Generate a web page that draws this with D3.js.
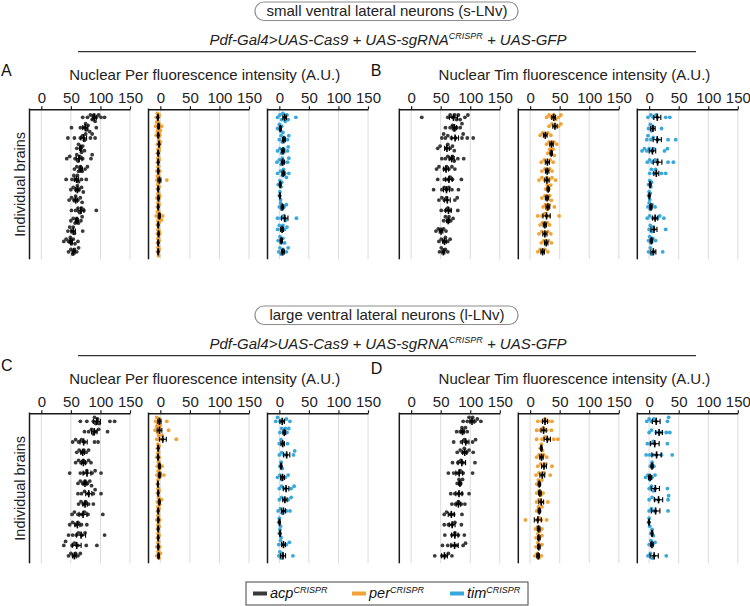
<!DOCTYPE html>
<html><head><meta charset="utf-8">
<script src="https://cdn.jsdelivr.net/npm/d3@7"></script>
<style>body{margin:0;background:#fff}svg{display:block}text{font-family:"Liberation Sans",Arial,sans-serif}</style>
</head><body><svg id="c" width="750" height="606"></svg>
<script>
// ---------- DATA ----------
const genotypes = ["acp", "per", "tim"];
const tickValues = [0, 50, 100, 150];
const sectionTitles = ["small ventral lateral neurons (s-LNv)", "large ventral lateral neurons (l-LNv)"];
const panelTitles = ["Nuclear Per fluorescence intensity (A.U.)", "Nuclear Tim fluorescence intensity (A.U.)"];
const panelLetters = ["A", "B", "C", "D"];

// s-LNv, Per
const acpPerS = [[70,78,83,86,89,91,93,97,101,107],[51,66,72,75,77,79,82,93],[45,56,66,70,73,75,83,86,91],[60,63,66,68,70,73],[43,48,57,60,62,65,70,84,86],[56,60,63,66,69,74,78],[42,52,55,59,61,63,68,76],[50,54,58,61,64,68,71],[47,51,55,58,62,66,69],[51,58,62,65,68,72,93],[50,54,57,60,63,67,69],[45,48,51,54,56,70],[38,42,46,49,51,54,57,62],[46,50,53,56,60,63]];
const perPerS = [[-7,-5,-4,-3,-2],[-8,-6,-4,-2,0,2],[-7,-5,-3,-2,-1],[-5,-3,-2,-1,0],[-5,-4,-3,-2],[-5,-4,-3,-2],[-6,-4,-3,-1],[-6,-5,-4,-3,-2,11],[-5,-4,-3,-2],[-6,-4,-3,-2,-1],[-5,-4,-3,-2],[-7,-5,-3,-1,2,4],[-5,-4,-3,-2],[-5,-4,-3,-2,-1],[-5,-4,-3,-2],[-5,-4,-3,-2]];
const timPerS = [[-3,1,4,6,8,10,13,15,28],[-3,0,2,4,6],[0,3,5,8,14,16],[-3,1,4,7,14,15],[-4,0,3,5,8,14,16],[-3,2,5,7,9,12,16],[-2,1,3,4],[0,1,2],[0,2,4,8,12],[-3,3,7,10,29],[-3,0,3,6,9,13],[-2,1,3,6,9],[-1,1,3,6,12,15]];
// s-LNv, Tim
const acpTimS = [[18,62,66,70,74,77,80,83,91,96],[58,66,70,73,77,83,86],[52,55,58,62,68,75,86,88,95,105],[45,49,59,62,66,70,73],[52,58,62,66,70,73,79,89],[43,47,56,60,64,69,74],[45,56,62,66,70,85],[38,52,56,60,64,69,80],[47,52,56,60,74,78],[51,58,62,66,79],[55,58,61,64,67,71],[42,46,51,55,59],[47,51,55,58,62,66],[48,51,54,58,62]];
const perTimS = [[28,32,36,40,43,48,52],[32,37,41,48,52],[17,21,25,30,35],[28,32,36,40,45],[30,33,36,39,41],[19,24,30,34,39],[20,25,29,33,37],[15,20,24,28,32,37,43],[26,29,32,35],[20,25,29,33,36],[22,26,29,32,41],[13,20,25,32,49],[17,21,25,29,33],[15,20,25,30,35],[19,23,27,31,36],[13,17,21,25,30]];
const timTimS = [[-2,3,7,12,28,35],[-1,2,4,6,21],[-4,-2,3,7,15,32,45],[-12,-8,-4,0,4,8,26,31],[-3,1,5,10,32,41],[1,4,8,11,21,28],[-1,1,3,4],[-1,0,1,2],[-2,0,2,5,10],[-3,1,6,14,18,25],[0,2,4,7,28],[-1,1,3,6,11],[-1,2,4,8,23]];
// l-LNv, Per
const acpPerL = [[66,77,88,90,92,95,98,116,124],[73,80,85,88,92,97,112],[53,58,63,68,73,90,96],[60,64,68,72,76,80],[58,63,67,71,75,80,84],[48,66,72,77,86,91,101],[62,66,70,74,78,82,85],[62,68,73,79,88,91,101],[63,67,71,75,80,88],[52,56,62,68,73,79,104],[48,53,58,62,68,77],[46,53,59,63,69,74,107],[38,41,52,56,62,76,94],[46,50,54,58,62,66]];
const perPerL = [[-8,-6,-4,-2,0,11],[-9,-6,-4,-2,14],[-6,-3,0,3,27],[-5,-4,-3,-2],[-6,-4,-3,-2],[-5,-3,-1,3],[-6,-4,-2,0,6],[-5,-4,-3],[-5,-4,-3,-2],[-5,-3,-1,2],[-5,-4,-3,-2],[-6,-4,-3,-1],[-5,-4,-3,-2],[-5,-4,-3,-2],[-6,-4,-3,-1],[-6,-4,-2,0]];
const timPerL = [[-6,-3,1,7,12,18],[1,4,7,10,13,16],[0,3,6,14],[0,4,8,24,26],[1,3,5],[-3,1,4,10,15],[0,4,8,20,25],[0,4,8,15,20],[-2,2,5,12,18],[-1,0,2],[0,1,3],[-1,2,5,12,17],[-1,1,3,5,23]];
// l-LNv, Tim
const acpTimL = [[88,95,98,101,104,108,112,118],[77,83,86,89,92,95],[72,85,90,94,104,109],[78,83,87,90,94,98,105],[70,79,84,88,108],[63,72,78,83,88,104],[78,81,84,87],[67,74,80,86,98],[69,75,80,85,91],[56,60,66,72,86],[56,63,69,74,85],[57,69,74,80,90],[53,62,69,77,88,92],[40,52,58,63,69]];
const perTimL = [[13,20,25,31,37],[11,17,22,28,36],[11,20,25,31,40,47],[17,19,21],[11,15,19,23,28],[13,18,22,27,37],[10,15,20,24,34],[11,14,17,20],[11,15,18,22],[11,15,19,30],[11,14,17,20],[-8,11,15,19,28],[9,13,16,20],[10,13,16,20],[10,13,16,20],[8,12,15,19]];
const timTimL = [[-4,0,4,8,31,33],[0,4,12,21,29,35],[-3,3,7,31],[-5,1,7,21,39],[2,5,8],[-6,-2,1,5,10],[0,4,7,31],[0,5,10,32,33],[0,4,8,32],[-1,0,1],[3,5,7],[0,3,6,10],[-2,2,5,29]];

const colors = {acp: "#3a3a3a", per: "#f2a233", tim: "#38a8dc"};

// ---------- LAYOUT ----------
const svg = d3.select("#c");
const F = '"Liberation Sans", Arial, sans-serif';
const sectionOffset = [0, 304];
const colLeft = [29.5, 399.3];
const subStep = 119;
const subWidth = 100.5;
const axisTop0 = 109.3;
const axisH = 150;

const panels = [
  {letter: 0, sec: 0, col: 0, title: 0, data: [acpPerS, perPerS, timPerS], ly: 76},
  {letter: 1, sec: 0, col: 1, title: 1, data: [acpTimS, perTimS, timTimS], ly: 76},
  {letter: 2, sec: 1, col: 0, title: 0, data: [acpPerL, perPerL, timPerL], ly: 371},
  {letter: 3, sec: 1, col: 1, title: 1, data: [acpTimL, perTimL, timTimL], ly: 374}
];

// Section headers
sectionOffset.forEach((off, i) => {
  const g = svg.append("g").attr("transform", `translate(0,${off})`);
  g.append("rect").attr("x", 255).attr("y", 2).attr("width", 263).attr("height", 18.5)
    .attr("rx", 9).attr("fill", "none").attr("stroke", "#8c8c8c").attr("stroke-width", 1.2);
  g.append("text").attr("x", 387).attr("y", 16.3).attr("text-anchor", "middle")
    .attr("font-size", 15).attr("fill", "#222").text(sectionTitles[i]);
  const t = g.append("text").attr("x", 388).attr("y", 45).attr("text-anchor", "middle")
    .attr("font-size", 15).attr("font-style", "italic").attr("fill", "#222");
  t.append("tspan").text("Pdf-Gal4>UAS-Cas9 + UAS-sgRNA");
  t.append("tspan").attr("font-size", 9).attr("dy", -6).text("CRISPR");
  t.append("tspan").attr("font-size", 15).attr("dy", 6).text(" + UAS-GFP");
  g.append("line").attr("x1", 78).attr("x2", 696).attr("y1", 51.7).attr("y2", 51.7)
    .attr("stroke", "#333").attr("stroke-width", 1.2);
});

function swarm(vals, x, r) {
  const pts = vals.map(v => ({v, px: x(v), dy: 0})).sort((a, b) => a.px - b.px);
  const placed = [];
  const cands = [0, -2.3, 2.3, -4, 4];
  for (const d of pts) {
    let best = 0, bestMin = -1;
    for (const c of cands) {
      let minD = Infinity;
      for (const p of placed) {
        const dd = Math.hypot(p.px - d.px, p.dy - c);
        if (dd < minD) minD = dd;
      }
      if (minD >= 2 * r * 0.85) { best = c; bestMin = Infinity; break; }
      if (minD > bestMin) { bestMin = minD; best = c; }
    }
    d.dy = best;
    placed.push(d);
  }
  return placed;
}

panels.forEach(p => {
  const top = axisTop0 + sectionOffset[p.sec];
  const left = colLeft[p.col];
  const g = svg.append("g");

  // letter
  g.append("text").attr("x", left - 28.5).attr("y", p.ly).attr("font-size", 16).attr("fill", "#111")
    .text(panelLetters[p.letter]);

  // y label for left column
  if (p.col === 0) {
    g.append("text").attr("transform", `translate(25,${top + axisH / 2}) rotate(-90)`)
      .attr("text-anchor", "middle").attr("font-size", 14.5).attr("fill", "#222").text("Individual brains");
  }

  p.data.forEach((rows, k) => {
    const x0 = left + k * subStep;
    const x = d3.scaleLinear().domain([-20, 150]).range([x0, x0 + subWidth]);
    const y = d3.scalePoint().domain(d3.range(rows.length)).range([top + 8, top + 142.5]);
    const sg = g.append("g");

    if (k === 1) {
      sg.append("text").attr("x", x(75)).attr("y", top - 29.3).attr("text-anchor", "middle")
        .attr("font-size", 15).attr("fill", "#222").text(panelTitles[p.title]);
    }

    // gridlines
    sg.selectAll(".grid").data(tickValues).join("line")
      .attr("x1", d => x(d)).attr("x2", d => x(d)).attr("y1", top).attr("y2", top + axisH)
      .attr("stroke", "#dcdcdc").attr("stroke-width", 1);

    // dots
    rows.forEach((vals, i) => {
      const pts = swarm(vals, x, 1.9);
      sg.append("g").selectAll("circle").data(pts).join("circle")
        .attr("cx", d => d.px).attr("cy", d => y(i) + d.dy).attr("r", 1.9)
        .attr("fill", colors[genotypes[k]]);
    });

    // mean +/- SEM
    rows.forEach((vals, i) => {
      const m = d3.mean(vals);
      const sem = d3.deviation(vals) / Math.sqrt(vals.length);
      const cy = y(i);
      const eg = sg.append("g").attr("stroke", "#000").attr("fill", "none");
      eg.append("line").attr("x1", x(m - sem)).attr("x2", x(m + sem)).attr("y1", cy).attr("y2", cy).attr("stroke-width", 1.1);
      [m - sem, m + sem].forEach(v => eg.append("line").attr("x1", x(v)).attr("x2", x(v))
        .attr("y1", cy - 2.6).attr("y2", cy + 2.6).attr("stroke-width", 1.1));
      eg.append("line").attr("x1", x(m)).attr("x2", x(m)).attr("y1", cy - 3.6).attr("y2", cy + 3.6).attr("stroke-width", 1.6);
      eg.append("circle").attr("cx", x(m)).attr("cy", cy).attr("r", 1.6).attr("fill", "#000").attr("stroke", "none");
    });

    // axes
    const ax = sg.append("g").attr("transform", `translate(0,${top})`)
      .call(d3.axisTop(x).tickValues(tickValues).tickSize(3).tickSizeOuter(0));
    ax.select(".domain").attr("stroke", "#1a1a1a").attr("stroke-width", 1.5);
    ax.selectAll(".tick line").attr("stroke", "#1a1a1a").attr("stroke-width", 1.2);
    ax.selectAll(".tick text").attr("font-size", 15).attr("font-family", F).attr("fill", "#222");
    sg.append("line").attr("x1", x(-20)).attr("x2", x(-20)).attr("y1", top - 0.75).attr("y2", top + axisH)
      .attr("stroke", "#1a1a1a").attr("stroke-width", 1.5);
  });
});

// ---------- LEGEND ----------
const lg = svg.append("g");
lg.append("rect").attr("x", 246).attr("y", 582).attr("width", 282).attr("height", 23)
  .attr("fill", "none").attr("stroke", "#444").attr("stroke-width", 1);
const legendX = [253, 352, 450];
genotypes.forEach((gname, i) => {
  lg.append("rect").attr("x", legendX[i]).attr("y", 591.5).attr("width", 14).attr("height", 4)
    .attr("fill", colors[gname]);
  const t = lg.append("text").attr("x", legendX[i] + 17).attr("y", 598).attr("font-size", 14.5)
    .attr("font-style", "italic").attr("fill", "#111");
  t.append("tspan").text(gname);
  t.append("tspan").attr("font-size", 9).attr("dy", -5.5).text("CRISPR");
});
</script></body></html>
